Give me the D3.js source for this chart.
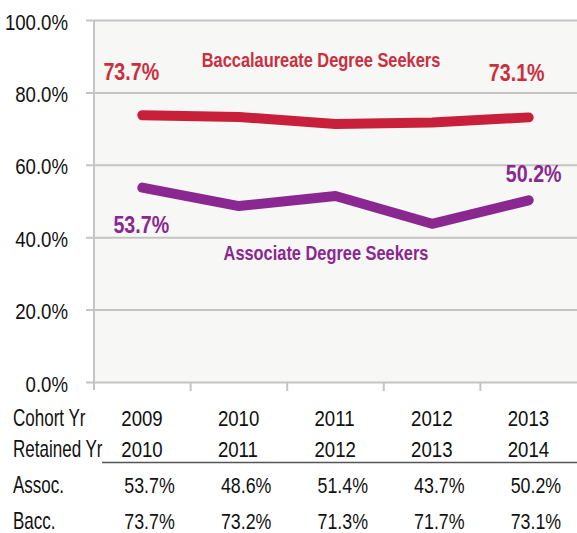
<!DOCTYPE html>
<html>
<head>
<meta charset="utf-8">
<script src="https://cdn.jsdelivr.net/npm/d3@7"></script>
<style>
  html, body { margin: 0; padding: 0; background: #ffffff; }
  svg { display: block; }
  text { font-family: 'Liberation Sans', Arial, sans-serif; }
</style>
</head>
<body>
<svg id="chart" width="577" height="533"></svg>
<script>
// Retention rates by cohort
const cohortYears   = ["2009", "2010", "2011", "2012", "2013"];
const retainedYears = ["2010", "2011", "2012", "2013", "2014"];
const assocValues   = [53.7, 48.6, 51.4, 43.7, 50.2];
const baccValues    = [73.7, 73.2, 71.3, 71.7, 73.1];
const yTicks        = [0, 20, 40, 60, 80, 100];
const rowLabels     = ["Cohort Yr", "Retained Yr", "Assoc.", "Bacc."];

const RED = "#c8203a";
const RED_TEXT = "#c9303f";
const PURPLE = "#8a2790";
const GRID = "#c4c4c4";

const svg = d3.select("#chart");
const plotLeft = 94, plotRight = 577, plotTop = 20, plotBottom = 382;

const x = d3.scaleBand().domain(cohortYears).range([plotLeft, plotRight]).padding(0);
const y = d3.scaleLinear().domain([0, 100]).range([plotBottom, plotTop]);
const cx = d => x(d) + x.bandwidth() / 2;
const fmt = v => v.toFixed(1) + "%";

// squeeze text horizontally around its own anchor point for a condensed face
function condense(sel, k) {
  sel.each(function () {
    const t = d3.select(this);
    const tx = +t.attr("x") || 0, ty = +t.attr("y") || 0;
    t.attr("x", 0).attr("y", 0)
     .attr("transform", `translate(${tx},${ty}) scale(${k},1)`);
  });
}

// plot background
svg.append("rect")
  .attr("x", plotLeft).attr("y", plotTop)
  .attr("width", plotRight - plotLeft).attr("height", plotBottom - plotTop)
  .attr("fill", "#f7f7f5");

// horizontal gridlines with left ticks
const yAxis = d3.axisLeft(y).tickValues(yTicks)
  .tickSize(-(plotRight - plotLeft)).tickPadding(26)
  .tickFormat(d => d.toFixed(1) + "%");
const gy = svg.append("g").attr("transform", `translate(${plotLeft},0)`).call(yAxis);
gy.select(".domain").remove();
gy.selectAll(".tick line").attr("stroke", GRID).attr("stroke-width", 2).attr("x1", -8);
gy.selectAll(".tick text")
  .attr("font-size", 23).attr("fill", "#111")
  .attr("font-family", "'Liberation Sans', Arial, sans-serif")
  .attr("y", 9).attr("dy", null)
  .call(condense, 0.81);

// vertical axis line
svg.append("line")
  .attr("x1", plotLeft).attr("x2", plotLeft).attr("y1", plotTop).attr("y2", plotBottom + 8)
  .attr("stroke", GRID).attr("stroke-width", 2);

// category boundary ticks below the baseline
svg.append("g").selectAll("line")
  .data(cohortYears.slice(1))
  .join("line")
  .attr("x1", d => x(d)).attr("x2", d => x(d))
  .attr("y1", plotBottom).attr("y2", plotBottom + 9)
  .attr("stroke", GRID).attr("stroke-width", 2);

// series lines
const line = vals => d3.line()
  .x((d, i) => cx(cohortYears[i]))
  .y(d => y(d))(vals);

svg.append("path").attr("d", line(baccValues))
  .attr("fill", "none").attr("stroke", RED).attr("stroke-width", 10)
  .attr("stroke-linecap", "round").attr("stroke-linejoin", "round");
svg.append("path").attr("d", line(assocValues))
  .attr("fill", "none").attr("stroke", PURPLE).attr("stroke-width", 10)
  .attr("stroke-linecap", "round").attr("stroke-linejoin", "round");

// series annotations
const last = cohortYears.length - 1;
const ann = svg.append("g").attr("font-weight", "bold");
ann.append("text").attr("x", cx(cohortYears[0]) - 11).attr("y", y(baccValues[0]) - 35)
  .attr("text-anchor", "middle").attr("font-size", 24).attr("fill", RED_TEXT)
  .text(fmt(baccValues[0]));
ann.append("text").attr("x", cx(cohortYears[last]) - 12).attr("y", y(baccValues[last]) - 36)
  .attr("text-anchor", "middle").attr("font-size", 24).attr("fill", RED_TEXT)
  .text(fmt(baccValues[last]));
ann.append("text").attr("x", 321).attr("y", 67)
  .attr("text-anchor", "middle").attr("font-size", 20).attr("fill", RED_TEXT)
  .text("Baccalaureate Degree Seekers");
ann.append("text").attr("x", cx(cohortYears[0]) - 1).attr("y", y(assocValues[0]) + 45)
  .attr("text-anchor", "middle").attr("font-size", 24).attr("fill", PURPLE)
  .text(fmt(assocValues[0]));
ann.append("text").attr("x", cx(cohortYears[last]) + 5).attr("y", y(assocValues[last]) - 18)
  .attr("text-anchor", "middle").attr("font-size", 24).attr("fill", PURPLE)
  .text(fmt(assocValues[last]));
ann.append("text").attr("x", 326).attr("y", 260)
  .attr("text-anchor", "middle").attr("font-size", 20).attr("fill", PURPLE)
  .text("Associate Degree Seekers");
ann.selectAll("text").call(condense, 0.82);

// data table below the chart
const rowY = [426, 457, 493, 529];
const table = svg.append("g").attr("fill", "#111");
table.selectAll("text.rowlabel")
  .data(rowLabels).join("text").attr("class", "rowlabel")
  .attr("x", 13).attr("y", (d, i) => rowY[i])
  .attr("font-size", 23).text(d => d)
  .call(condense, 0.74);

const rows = [
  cohortYears,
  retainedYears,
  assocValues.map(fmt),
  baccValues.map(fmt)
];
rows.forEach((row, r) => {
  table.selectAll(`text.cell${r}`)
    .data(row).join("text").attr("class", `cell${r}`)
    .attr("x", (d, i) => cx(cohortYears[i]) + (r >= 2 ? -18 : -21))
    .attr("y", rowY[r])
    .attr("font-size", r >= 2 ? 22 : 23)
    .text(d => d)
    .call(condense, 0.81);
});

// rule under the header rows
svg.append("line")
  .attr("x1", 102).attr("x2", plotRight).attr("y1", 462.5).attr("y2", 462.5)
  .attr("stroke", "#555").attr("stroke-width", 1.5);
</script>
</body>
</html>
